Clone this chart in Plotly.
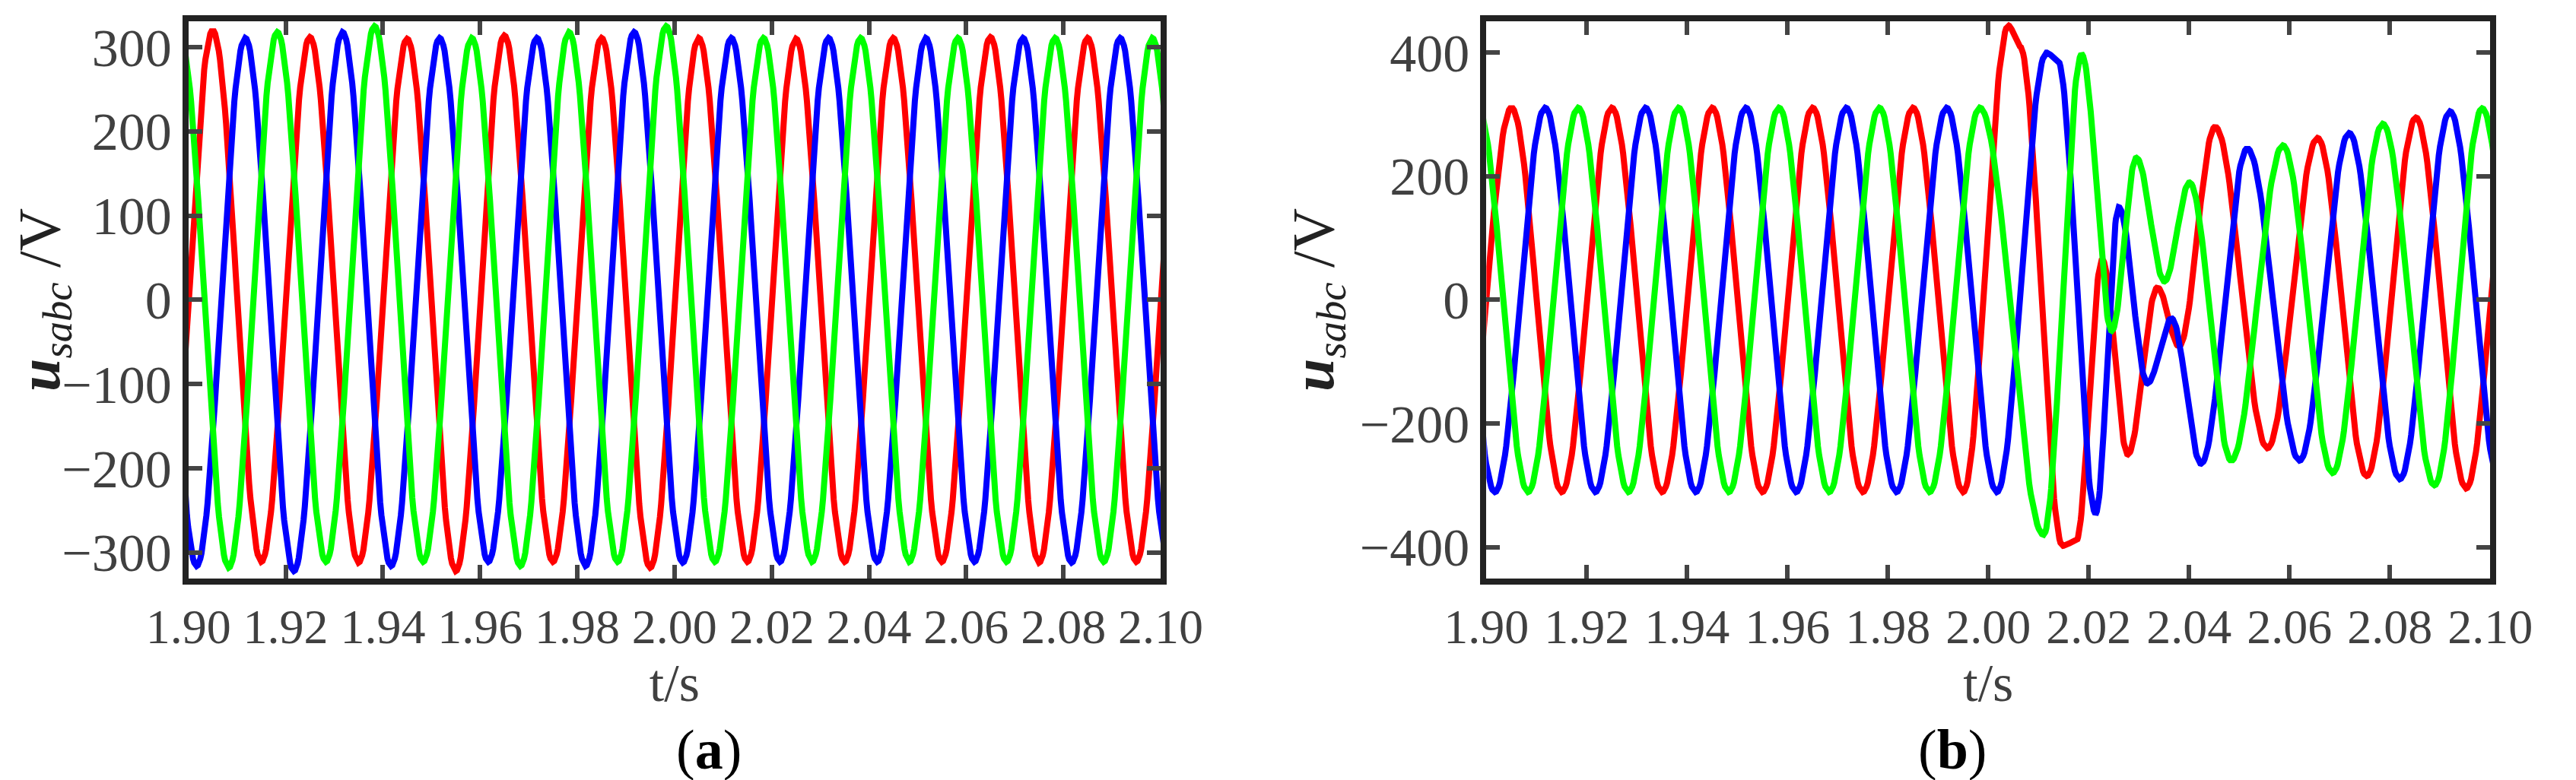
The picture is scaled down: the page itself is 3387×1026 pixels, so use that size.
import numpy as np
import plotly.graph_objects as go

# ---- panel (a): extrema times / values ----
a_red_t = [1.895,1.905,1.915,1.925,1.935,1.945,1.955,1.965,1.975,1.985,1.995,2.005,2.015,2.025,2.035,2.045,2.055,2.065,2.075,2.085,2.095,2.105]
a_red_v = [-311,320,-311,312,-312,310,-322,314,-311,311,-318,311,-311,310,-311,311,-311,312,-312,311,-311,311]
a_blue_t = [1.8917,1.9017,1.9117,1.9217,1.9317,1.9417,1.9517,1.9617,1.9717,1.9817,1.9917,2.0017,2.0117,2.0217,2.0317,2.0417,2.0517,2.0617,2.0717,2.0817,2.0917,2.1017,2.1117]
a_blue_v = [311,-316,311,-322,318,-316,311,-311,311,-316,318,-312,311,-311,311,-311,311,-311,311,-312,311,-311,311]
a_green_t = [1.8883,1.8983,1.9083,1.9183,1.9283,1.9383,1.9483,1.9583,1.9683,1.9783,1.9883,1.9983,2.0083,2.0183,2.0283,2.0383,2.0483,2.0583,2.0683,2.0783,2.0883,2.0983,2.1083]
a_green_v = [-311,311,-318,318,-311,325,-311,311,-316,318,-311,325,-311,311,-311,311,-311,311,-311,311,-311,311,-311]

# ---- panel (b) ----
b_red_t = [1.895,1.905,1.915,1.925,1.935,1.945,1.955,1.965,1.975,1.985,1.995,2.004,2.0063,2.0148,2.0175,2.0227,2.0278,2.0337,2.038,2.0452,2.0556,2.0656,2.0754,2.0852,2.0952,2.105]
b_red_v = [-311,311,-311,311,-311,311,-311,311,-311,311,-311,444,410,-398,-390,65,-250,20,-75,280,-240,262,-285,295,-305,310]
b_blue_t = [1.8917,1.9017,1.9117,1.9217,1.9317,1.9417,1.9517,1.9617,1.9717,1.9817,1.9917,2.0017,2.0116,2.0138,2.0214,2.026,2.0317,2.0365,2.0424,2.0516,2.062,2.0719,2.082,2.092,2.102]
b_blue_v = [311,-311,311,-311,311,-311,311,-311,311,-311,311,-311,400,388,-345,150,-135,-30,-265,245,-260,270,-290,305,-300]
b_green_t = [1.8883,1.8983,1.9083,1.9183,1.9283,1.9383,1.9483,1.9583,1.9683,1.9783,1.9883,1.9983,2.011,2.0186,2.0246,2.0295,2.0351,2.0401,2.0484,2.0587,2.0686,2.0786,2.0889,2.0984,2.1084]
b_green_v = [-311,311,-311,311,-311,311,-311,311,-311,311,-311,311,-380,397,-50,230,30,190,-260,250,-280,285,-300,310,-300]

x_ticks = [1.90,1.92,1.94,1.96,1.98,2.00,2.02,2.04,2.06,2.08,2.10]
a_y_ticks = [-300,-200,-100,0,100,200,300]
b_y_ticks = [-400,-200,0,200,400]

def wave(tk, vk, n=40):
    xs, ys = [], []
    for i in range(len(tk)-1):
        s = np.linspace(0, 1, n, endpoint=False)
        w = (1 - np.cos(np.pi*s))/2
        xs.extend(tk[i] + (tk[i+1]-tk[i])*s)
        ys.extend(vk[i] + (vk[i+1]-vk[i])*w)
    xs.append(tk[-1]); ys.append(vk[-1])
    return xs, ys

fig = go.Figure()
col = {"r": "#ff0000", "b": "#0000ff", "g": "#00ff00"}
for (t, v, c, ax) in [(a_red_t,a_red_v,"r",""),(a_blue_t,a_blue_v,"b",""),(a_green_t,a_green_v,"g",""),
                      (b_red_t,b_red_v,"r","2"),(b_blue_t,b_blue_v,"b","2"),(b_green_t,b_green_v,"g","2")]:
    x, y = wave(t, v)
    fig.add_trace(go.Scatter(x=x, y=y, mode="lines", line=dict(color=col[c], width=8),
                             xaxis="x"+ax, yaxis="y"+ax, showlegend=False))

FONT = "Liberation Serif, Times New Roman, serif"
def xax(dom, anchor):
    return dict(domain=dom, anchor=anchor, range=[1.9, 2.1], tickvals=x_ticks, tickformat=".2f",
                tickangle=0, ticks="inside", ticklen=18, tickwidth=6, showline=True, linewidth=8, linecolor="#222",
                mirror="ticks", showgrid=False, zeroline=False,
                tickfont=dict(family=FONT, size=64, color="#404040"),
                title=dict(text="t/s", font=dict(family=FONT, size=70, color="#404040"), standoff=0))
def yax(dom, anchor, rng, tv):
    return dict(domain=dom, anchor=anchor, range=rng, tickvals=tv,
                ticks="inside", ticklen=18, tickwidth=6, showline=True, linewidth=8, linecolor="#222",
                mirror="ticks", showgrid=False, zeroline=False,
                tickfont=dict(family=FONT, size=70, color="#404040"),
                title=dict(text="<b><i>u</i></b><i><sub>sabc</sub></i> /V",
                           font=dict(family=FONT, size=78, color="#222"), standoff=12))

fig.update_layout(
    width=3387, height=1026, paper_bgcolor="white", plot_bgcolor="white",
    margin=dict(l=0, r=0, t=0, b=0),
    xaxis=xax([190/3387, 1512/3387], "y"),
    yaxis=yax([1-756/1026, 1-17/1026], "x", [-331, 331], a_y_ticks),
    xaxis2=xax([1955/3387, 3320/3387], "y2"),
    yaxis2=yax([1-756/1026, 1-17/1026], "x2", [-451, 451], b_y_ticks),
    annotations=[
        dict(text="(<b>a</b>)", x=(190+1512)/2/3387, y=0.0, yanchor="bottom", xref="paper", yref="paper",
             showarrow=False, font=dict(family=FONT, size=74, color="black")),
        dict(text="(<b>b</b>)", x=(1955+3320)/2/3387, y=0.0, yanchor="bottom", xref="paper", yref="paper",
             showarrow=False, font=dict(family=FONT, size=74, color="black")),
    ],
)
fig.write_html("out.html")
